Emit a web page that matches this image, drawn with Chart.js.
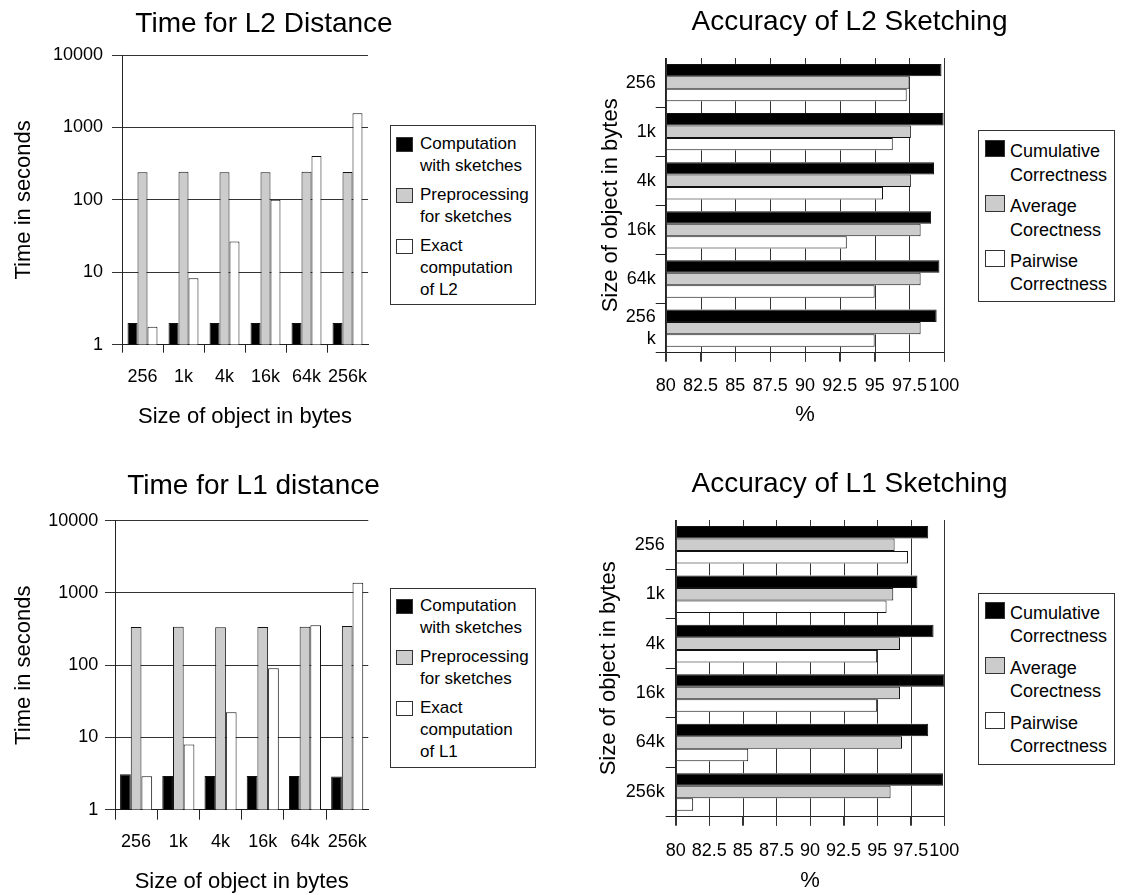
<!DOCTYPE html>
<html>
<head>
<meta charset="utf-8">
<script src="https://cdn.jsdelivr.net/npm/chart.js@4.4.0/dist/chart.umd.min.js"></script>
<style>
  body { margin: 0; width: 1122px; height: 895px; background: #fff; position: relative; overflow: hidden; }
  canvas { position: absolute; }
  .legend {
    position: absolute; box-sizing: border-box; border: 1px solid #333; background: #fff;
    font-family: 'Liberation Sans', Arial, sans-serif; color: #000;
  }
  .item { display: flex; align-items: flex-start; }
  .sw { flex: none; box-sizing: border-box; border: 1px solid #333; }
</style>
</head>
<body>
<canvas id="timeL2" width="528" height="440" style="left:0px;top:0px"></canvas>
<canvas id="accL2" width="539" height="440" style="left:580px;top:0px"></canvas>
<canvas id="timeL1" width="507" height="435" style="left:0px;top:460px"></canvas>
<canvas id="accL1" width="539" height="435" style="left:580px;top:460px"></canvas>
<div id="legTimeL2" class="legend"></div>
<div id="legAccL2" class="legend"></div>
<div id="legTimeL1" class="legend"></div>
<div id="legAccL1" class="legend"></div>

<script>
const FONT = "'Liberation Sans', Arial, sans-serif";

// categories
const sizeLabels = ['256', '1k', '4k', '16k', '64k', '256k'];
const sizeLabelsWrapped = ['256', '1k', '4k', '16k', '64k', ['256', 'k']];

// tick values
const timeTicks = [1, 10, 100, 1000, 10000];
const pctTicks = [80, 82.5, 85, 87.5, 90, 92.5, 95, 97.5, 100];

// series names
const l2TimeNames = ['Computation\nwith sketches', 'Preprocessing\nfor sketches', 'Exact\ncomputation\nof L2'];
const l1TimeNames = ['Computation\nwith sketches', 'Preprocessing\nfor sketches', 'Exact\ncomputation\nof L1'];
const accNames = ['Cumulative\nCorrectness', 'Average\nCorectness', 'Pairwise\nCorrectness'];

// time for L2 distance (seconds)
const l2Sketch = [2, 2, 2, 2, 2, 2];
const l2Pre = [240, 245, 240, 240, 245, 242];
const l2Exact = [1.77, 8.3, 26.5, 100, 404, 1570];

// time for L1 distance (seconds)
const l1Sketch = [3.1, 2.93, 2.93, 2.93, 2.93, 2.88];
const l1Pre = [338, 340, 335, 338, 340, 350];
const l1Exact = [2.9, 8.0, 22.3, 90.6, 357, 1387];

// accuracy of L2 sketching (%)
const l2Cum = [99.8, 99.95, 99.26, 99.05, 99.65, 99.45];
const l2Avg = [97.5, 97.6, 97.6, 98.3, 98.3, 98.3];
const l2Pair = [97.3, 96.3, 95.6, 93.0, 95.0, 95.0];

// accuracy of L1 sketching (%)
const l1Cum = [98.8, 98.0, 99.2, 100, 98.8, 99.9];
const l1Avg = [96.3, 96.2, 96.7, 96.7, 96.85, 96.0];
const l1Pair = [97.3, 95.7, 95.0, 95.0, 85.4, 81.3];

const fills = ['#000000', '#cccccc', '#ffffff'];
const NONE = 'rgba(0,0,0,0)';

function makeDatasets(names, values, base) {
    return names.map((name, i) => {
        const ds = {
            label: name.replace(/\n/g, ' '),
            data: values[i],
            backgroundColor: fills[i],
            borderColor: '#111',
            borderWidth: 1,
            xAxisID: 'x',
            yAxisID: 'y'
        };
        // bars start at the axis minimum
        if (base !== undefined) ds.base = base;
        return ds;
    });
}

// vertical grid lines for the % axis, drawn after the bars but only where no bar covers them
const percentGrid = {
    id: 'percentGrid',
    afterDatasetsDraw(chart) {
        const xs = chart.scales.x;
        const area = chart.chartArea;
        const ctx = chart.ctx;
        const tickLen = xs.options.grid.tickLength;
        const rects = [];
        chart.getSortedVisibleDatasetMetas().forEach(meta => {
            meta.data.forEach(bar => {
                const p = bar.getProps(['x', 'y', 'base', 'height'], true);
                rects.push({
                    x0: Math.min(p.x, p.base), x1: Math.max(p.x, p.base),
                    y0: p.y - p.height / 2, y1: p.y + p.height / 2
                });
            });
        });
        ctx.save();
        ctx.strokeStyle = '#333';
        ctx.lineWidth = 1;
        pctTicks.forEach(v => {
            const px = Math.round(xs.getPixelForValue(v)) + 0.5;
            const cover = rects
                .filter(r => px > r.x0 + 0.5 && px < r.x1 - 0.5)
                .map(r => [r.y0, r.y1])
                .sort((a, b) => a[0] - b[0]);
            let y = area.top;
            ctx.beginPath();
            cover.forEach(([a, b]) => {
                if (a > y) { ctx.moveTo(px, y); ctx.lineTo(px, a); }
                y = Math.max(y, b);
            });
            ctx.moveTo(px, y);
            ctx.lineTo(px, area.bottom + tickLen);
            ctx.stroke();
        });
        ctx.restore();
    }
};

// invisible axis on the right so the title is centred over plot + legend
function gapAxis(width) {
    return {
        type: 'linear', position: 'right', display: true,
        grid: { display: false }, border: { display: false }, ticks: { display: false },
        afterFit: s => { s.width = width; }
    };
}

function titleOpts(text, g) {
    return {
        display: true, text: text, color: '#000',
        font: { family: FONT, size: 28, weight: 'normal' },
        padding: { top: g.titleTop, bottom: g.titleBottom }
    };
}

function makeTimeChart(id, title, names, values, g) {
    return new Chart(document.getElementById(id), {
        type: 'bar',
        data: { labels: sizeLabels, datasets: makeDatasets(names, values) },
        options: {
            responsive: false,
            animation: false,
            layout: { padding: 0 },
            datasets: { bar: { categoryPercentage: g.cat, barPercentage: 1 } },
            plugins: {
                legend: { display: false },
                tooltip: { enabled: false },
                title: titleOpts(title, g)
            },
            scales: {
                x: {
                    type: 'category', offset: true,
                    grid: {
                        offset: true, drawOnChartArea: false, tickLength: g.xTick,
                        color: ctx => ctx.type === 'scale' ? NONE : '#222'
                    },
                    border: { color: '#222' },
                    ticks: { color: '#000', font: { family: FONT, size: 18 }, padding: g.xPad, maxRotation: 0, autoSkip: false },
                    title: {
                        display: true, text: 'Size of object in bytes', color: '#000',
                        font: { family: FONT, size: 22 }, padding: { top: 0, bottom: g.xTitlePad }
                    },
                    afterFit: s => { s.height = g.xHeight; }
                },
                y: {
                    type: 'logarithmic', min: 1, max: 10000,
                    afterBuildTicks: s => { s.ticks = timeTicks.map(v => ({ value: v })); },
                    grid: { color: '#333', tickLength: 10 },
                    border: { color: '#222' },
                    ticks: { color: '#000', font: { family: FONT, size: 18 }, padding: g.yPad, callback: v => String(v) },
                    title: {
                        display: true, text: 'Time in seconds', color: '#000',
                        font: { family: FONT, size: 22 }, padding: { top: g.yTitlePad, bottom: 0 }
                    },
                    afterFit: s => { s.width = g.yWidth; }
                },
                gap: gapAxis(g.rightGap)
            }
        }
    });
}

function makeAccChart(id, title, labels, names, values, g) {
    return new Chart(document.getElementById(id), {
        type: 'bar',
        data: { labels: labels, datasets: makeDatasets(names, values, pctTicks[0]) },
        plugins: [percentGrid],
        options: {
            indexAxis: 'y',
            responsive: false,
            animation: false,
            layout: { padding: 0 },
            datasets: { bar: { categoryPercentage: g.cat, barPercentage: 1 } },
            plugins: {
                legend: { display: false },
                tooltip: { enabled: false },
                title: titleOpts(title, g)
            },
            scales: {
                x: {
                    type: 'linear', min: 80, max: 100,
                    afterBuildTicks: s => { s.ticks = pctTicks.map(v => ({ value: v })); },
                    grid: { color: '#333', tickLength: g.xTick, drawOnChartArea: false },
                    border: { color: '#222' },
                    ticks: {
                        color: '#000', font: { family: FONT, size: 18 }, padding: g.xPad,
                        maxRotation: 0, minRotation: 0, autoSkip: false, callback: v => String(v)
                    },
                    title: {
                        display: true, text: '%', color: '#000',
                        font: { family: FONT, size: 22 }, padding: { top: 0, bottom: g.xTitlePad }
                    },
                    afterFit: s => { s.height = g.xHeight; }
                },
                y: {
                    type: 'category', offset: true,
                    grid: {
                        offset: true, drawOnChartArea: false, tickLength: 10,
                        color: ctx => ctx.index === 0 ? NONE : '#222'
                    },
                    border: { color: '#222' },
                    ticks: { color: '#000', font: { family: FONT, size: 18 }, padding: g.yPad, autoSkip: false },
                    title: {
                        display: true, text: 'Size of object in bytes', color: '#000',
                        font: { family: FONT, size: 22 }, padding: { top: g.yTitlePad, bottom: 0 }
                    },
                    afterFit: s => { s.width = g.yWidth; }
                },
                gap: gapAxis(g.rightGap)
            }
        }
    });
}

// HTML legend boxes (labels wrap over two or three lines)
function makeLegend(id, names, box) {
    const el = document.getElementById(id);
    Object.assign(el.style, {
        left: box.left + 'px', top: box.top + 'px', width: box.w + 'px', height: box.h + 'px',
        fontSize: box.font + 'px', lineHeight: box.lh + 'px',
        paddingTop: box.padTop + 'px', paddingLeft: box.padLeft + 'px'
    });
    names.forEach((name, i) => {
        const item = document.createElement('div');
        item.className = 'item';
        if (i > 0) item.style.marginTop = box.gap + 'px';
        const sw = document.createElement('span');
        sw.className = 'sw';
        Object.assign(sw.style, {
            width: box.swW + 'px', height: box.swH + 'px', background: fills[i],
            marginTop: box.swTop + 'px', marginRight: box.swRight + 'px'
        });
        const txt = document.createElement('div');
        name.split('\n').forEach((line, j) => {
            if (j > 0) txt.appendChild(document.createElement('br'));
            txt.appendChild(document.createTextNode(line));
        });
        item.appendChild(sw);
        item.appendChild(txt);
        el.appendChild(item);
    });
}

makeTimeChart('timeL2', 'Time for L2 Distance', l2TimeNames, [l2Sketch, l2Pre, l2Exact], {
    cat: 0.73, titleTop: 7, titleBottom: 14.4, xTick: 8, xPad: 14, xTitlePad: 9.8, xHeight: 95.3,
    yPad: 9, yTitlePad: 10.6, yWidth: 122, rightGap: 160
});

makeAccChart('accL2', 'Accuracy of L2 Sketching', sizeLabelsWrapped, accNames, [l2Cum, l2Avg, l2Pair], {
    cat: 0.76, titleTop: 5.7, titleBottom: 18.7, xTick: 9, xPad: 13.5, xTitlePad: 11.5, xHeight: 87.3,
    yPad: 0, yTitlePad: 17.4, yWidth: 85.7, rightGap: 174.7
});

makeTimeChart('timeL1', 'Time for L1 distance', l1TimeNames, [l1Sketch, l1Pre, l1Exact], {
    cat: 0.76, titleTop: 9.8, titleBottom: 17.3, xTick: 10, xPad: 11.5, xTitlePad: 0, xHeight: 85.3,
    yPad: 6.7, yTitlePad: 11.1, yWidth: 115, rightGap: 138.7
});

makeAccChart('accL1', 'Accuracy of L1 Sketching', sizeLabels, accNames, [l1Cum, l1Avg, l1Pair], {
    cat: 0.76, titleTop: 7.3, titleBottom: 19.1, xTick: 9, xPad: 14.5, xTitlePad: 1, xHeight: 78.3,
    yPad: 1, yTitlePad: 15.8, yWidth: 95.7, rightGap: 174.7
});

makeLegend('legTimeL2', l2TimeNames, {
    left: 390, top: 125, w: 146, h: 180, font: 17, lh: 22, padTop: 7, padLeft: 5,
    swW: 17, swH: 15, swTop: 3.6, swRight: 7, gap: 7
});
makeLegend('legTimeL1', l1TimeNames, {
    left: 390, top: 588, w: 146, h: 180, font: 17, lh: 22, padTop: 6, padLeft: 5,
    swW: 17, swH: 15, swTop: 3.6, swRight: 7, gap: 7
});
makeLegend('legAccL2', accNames, {
    left: 978, top: 130, w: 137, h: 172, font: 18, lh: 23.4, padTop: 9.4, padLeft: 6,
    swW: 20, swH: 17, swTop: 0, swRight: 5, gap: 8
});
makeLegend('legAccL1', accNames, {
    left: 978, top: 593, w: 137, h: 172, font: 18, lh: 23.4, padTop: 8, padLeft: 6,
    swW: 20, swH: 17, swTop: 0, swRight: 5, gap: 8
});
</script>
</body>
</html>
